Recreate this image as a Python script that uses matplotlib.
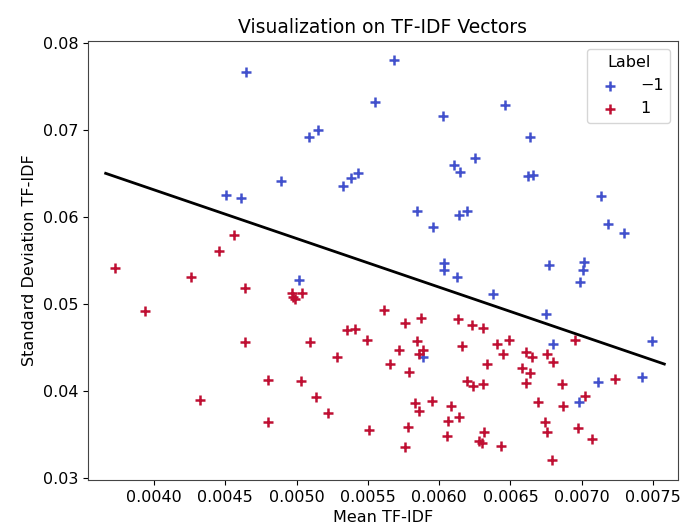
import numpy as np
import matplotlib
matplotlib.use("Agg")
import matplotlib.pyplot as plt

# mean / std of the TF-IDF vectors, label -1
neg_mean = [0.004645, 0.004891, 0.004503, 0.004610, 0.005683, 0.005550, 0.006029,
            0.005148, 0.005089, 0.006249, 0.006104, 0.006146, 0.005431, 0.005379,
            0.005327, 0.005846, 0.005954, 0.006193, 0.006139, 0.006459, 0.006639,
            0.006625, 0.006660, 0.007135, 0.007186, 0.007298, 0.006034, 0.006034,
            0.006123, 0.005019, 0.005889, 0.006772, 0.007018, 0.007011, 0.006987,
            0.006375, 0.006749, 0.007490, 0.006800, 0.007116, 0.007424, 0.006982]
neg_std = [0.07663, 0.06410, 0.06253, 0.06215, 0.07805, 0.07318, 0.07161,
           0.07000, 0.06916, 0.06678, 0.06601, 0.06521, 0.06502, 0.06452,
           0.06360, 0.06066, 0.05889, 0.06066, 0.06023, 0.07284, 0.06923,
           0.06471, 0.06483, 0.06245, 0.05919, 0.05813, 0.05468, 0.05391,
           0.05314, 0.05276, 0.04387, 0.05452, 0.05479, 0.05391, 0.05253,
           0.05111, 0.04882, 0.04578, 0.04537, 0.04107, 0.04164, 0.03877]

# label 1
pos_mean = [0.004561, 0.004458, 0.003727, 0.004259, 0.004638, 0.003939, 0.004638,
            0.004802, 0.004320, 0.004802, 0.004966, 0.005036, 0.004989, 0.004973,
            0.005613, 0.005760, 0.005874, 0.006130, 0.006228, 0.005351, 0.005410,
            0.005094, 0.005496, 0.005842, 0.006162, 0.005285, 0.005718, 0.005889,
            0.005860, 0.005655, 0.005790, 0.005033, 0.006193, 0.006235, 0.005136,
            0.005828, 0.005860, 0.005947, 0.006081, 0.005222, 0.006064, 0.006139,
            0.005510, 0.005779, 0.006057, 0.005762, 0.006279, 0.006297, 0.006309,
            0.006403, 0.006489, 0.006450, 0.006333, 0.006607, 0.006653, 0.006754,
            0.006800, 0.006952, 0.006583, 0.006637, 0.006607, 0.006309, 0.006859,
            0.007233, 0.007022, 0.006691, 0.006866, 0.006742, 0.006754, 0.006971,
            0.007069, 0.006316, 0.006793, 0.006431]
pos_std = [0.05793, 0.05613, 0.05410, 0.05314, 0.05187, 0.04919, 0.04567,
           0.04126, 0.03897, 0.03644, 0.05130, 0.05123, 0.05054, 0.05084,
           0.04931, 0.04785, 0.04836, 0.04828, 0.04755, 0.04701, 0.04713,
           0.04560, 0.04583, 0.04578, 0.04521, 0.04394, 0.04471, 0.04471,
           0.04425, 0.04314, 0.04218, 0.04111, 0.04118, 0.04057, 0.03934,
           0.03866, 0.03774, 0.03889, 0.03828, 0.03744, 0.03659, 0.03698,
           0.03552, 0.03590, 0.03483, 0.03360, 0.03420, 0.03397, 0.04721,
           0.04537, 0.04586, 0.04422, 0.04314, 0.04445, 0.04387, 0.04425,
           0.04330, 0.04586, 0.04268, 0.04210, 0.04095, 0.04080, 0.04080,
           0.04138, 0.03943, 0.03870, 0.03831, 0.03647, 0.03532, 0.03578,
           0.03452, 0.03532, 0.03207, 0.03368]

# decision boundary end points
boundary_x = [0.003661, 0.007579]
boundary_y = [0.06502, 0.04310]

blue = "#4150cc"
red = "#bf0f32"

fig = plt.figure(figsize=(6.81, 5.31), dpi=100)
ax = fig.add_axes([0.1292, 0.0960, 0.8664, 0.8268])

ax.scatter(neg_mean, neg_std, marker="+", s=48, linewidths=1.8, color=blue, label="\u22121")
ax.scatter(pos_mean, pos_std, marker="+", s=48, linewidths=1.8, color=red, label="1")
ax.plot(boundary_x, boundary_y, color="black", linewidth=2)

ax.set_xlim(0.003537, 0.007675)
ax.set_ylim(0.02977, 0.08023)
xt = np.arange(0.0040, 0.00751, 0.0005)
yt = np.arange(0.03, 0.0801, 0.01)
ax.set_xticks(xt)
ax.set_xticklabels([f"{v:.4f}" for v in xt])
ax.set_yticks(yt)
ax.set_yticklabels([f"{v:.2f}" for v in yt])
ax.tick_params(labelsize=11.5)
for s in ax.spines.values():
    s.set_color("#444444")

ax.set_xlabel("Mean TF-IDF", fontsize=11.5)
ax.set_ylabel("Standard Deviation TF-IDF", fontsize=11.5)
ax.set_title("Visualization on TF-IDF Vectors", fontsize=13.5)

leg = ax.legend(title="Label", loc="upper right", fontsize=11.5, title_fontsize=11.5,
                handletextpad=0.9)

fig.savefig("out.png", dpi=100)
